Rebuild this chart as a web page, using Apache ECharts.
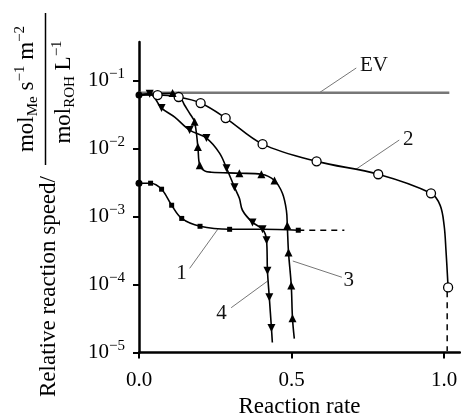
<!DOCTYPE html>
<html><head><meta charset="utf-8">
<script src="https://cdn.jsdelivr.net/npm/echarts@6/dist/echarts.min.js"></script>
<style>html,body{margin:0;padding:0;background:#fff}#c{width:461px;height:414px}</style>
</head><body><div id="c"></div>
<script>
// ---- axis ticks ----
const xTicks = [0, 0.5, 1.0];
const xTickLabels = ['0.0', '0.5', '1.0'];
const yTicks = [1e-5, 1e-4, 1e-3, 1e-2, 1e-1];
const yTickExps = ['−5', '−4', '−3', '−2', '−1'];

// ---- data (x = reaction rate, y = relative reaction speed) ----
const evLine = [[0, 0.0665], [1.017, 0.0665]];

const curve1 = [[0, 0.0031], [0.038, 0.0031], [0.074, 0.00253], [0.107, 0.00147], [0.14, 0.00094], [0.20, 0.00072], [0.297, 0.00065], [0.405, 0.00065], [0.522, 0.00063]];
const curve1Markers = [[0.038, 0.0031], [0.074, 0.00253], [0.107, 0.00147], [0.14, 0.00094], [0.20, 0.00072], [0.297, 0.00065], [0.522, 0.00063]];
const curve1Dashed = [[0.522, 0.00063], [0.673, 0.00063]];

const curve2 = [[0, 0.0615], [0.061, 0.0615], [0.130, 0.0575], [0.202, 0.0469], [0.284, 0.0282], [0.405, 0.01165], [0.582, 0.0065], [0.784, 0.0042], [0.957, 0.0022], [0.987, 0.00146], [1.0, 0.00074], [1.006, 0.00032], [1.013, 0.0000906]];
const curve2Markers = [[0.061, 0.0615], [0.130, 0.0575], [0.202, 0.0469], [0.284, 0.0282], [0.405, 0.01165], [0.582, 0.0065], [0.784, 0.0042], [0.957, 0.0022], [1.013, 0.0000906]];
const curve2Dashed = [[1.01, 0.00008], [1.01, 0.0000105]];

const curve3 = [[0, 0.0615], [0.06, 0.064], [0.11, 0.065], [0.134, 0.058], [0.149, 0.0439], [0.166, 0.0331], [0.182, 0.0248], [0.193, 0.0106], [0.199, 0.0057], [0.215, 0.0047], [0.237, 0.0045], [0.329, 0.00435], [0.401, 0.0042], [0.444, 0.0034], [0.470, 0.0022], [0.483, 0.00124], [0.486, 0.00074], [0.490, 0.000297], [0.499, 0.000097], [0.503, 0.000032], [0.509, 0.000016]];
const curve3Markers = [[0.11, 0.066], [0.182, 0.0248], [0.193, 0.0106], [0.199, 0.0057], [0.329, 0.00435], [0.401, 0.0042], [0.444, 0.0034], [0.486, 0.00074], [0.490, 0.000297], [0.499, 0.000097], [0.503, 0.000032]];

const curve4 = [[0, 0.0615], [0.035, 0.064], [0.074, 0.0395], [0.117, 0.0291], [0.166, 0.01874], [0.221, 0.01429], [0.264, 0.0086], [0.287, 0.00515], [0.313, 0.0027], [0.329, 0.00186], [0.339, 0.00124], [0.372, 0.00082], [0.405, 0.00065], [0.418, 0.00045], [0.421, 0.00016], [0.427, 0.000065], [0.434, 0.000023], [0.437, 0.000014]];
const curve4Markers = [[0.035, 0.064], [0.074, 0.0395], [0.166, 0.01874], [0.221, 0.01429], [0.287, 0.00515], [0.313, 0.0027], [0.372, 0.00082], [0.405, 0.00065], [0.418, 0.00045], [0.421, 0.00016], [0.427, 0.000065], [0.434, 0.000023]];

const startPoints = [[0, 0.0615], [0, 0.0031]];

// ---- annotations ----
const annotationNames = ['EV', '2', '3', '4', '1'];
const annotationPos = [[0.770, 0.1675], [0.882, 0.01374], [0.687, 0.000114], [0.270, 0.0000378], [0.139, 0.000147]];
const leaders = [
  [[0.591, 0.0665], [0.712, 0.1538]],
  [[0.711, 0.00497], [0.853, 0.01339]],
  [[0.504, 0.000222], [0.665, 0.000128]],
  [[0.422, 0.000113], [0.302, 0.0000456]],
  [[0.258, 0.00065], [0.166, 0.000173]]
];

const FONT = '"Liberation Serif", "Times New Roman", serif';
const BLACK = '#000';

function curve(data) {
  return { type: 'line', data: data, smooth: 0.35, showSymbol: false, symbol: 'none',
    lineStyle: { color: BLACK, width: 1.6 }, z: 3, silent: true };
}
function dashed(data) {
  return { type: 'line', data: data, showSymbol: false, symbol: 'none',
    lineStyle: { color: BLACK, width: 1.5, type: [6, 5] }, z: 3, silent: true };
}
function markers(data, symbol, size, fill) {
  return { type: 'scatter', data: data, symbol: symbol, symbolSize: size,
    itemStyle: { color: fill, borderColor: BLACK, borderWidth: fill === '#fff' ? 1.3 : 0, opacity: 1 }, z: 4, silent: true };
}

const option = {
  animation: false,
  backgroundColor: '#fff',
  grid: { left: 139, right: 1, top: 42, bottom: 61.5, containLabel: false, outerBoundsMode: 'none' },
  xAxis: {
    type: 'value', min: 0, max: 1.052,
    axisLine: { show: true, lineStyle: { color: BLACK, width: 2.5 } },
    axisTick: { show: true, length: 6, lineStyle: { color: BLACK, width: 2 }, customValues: xTicks },
    axisLabel: { customValues: xTicks, formatter: function (v) { const i = xTicks.findIndex(t => Math.abs(t - v) < 1e-9); return i >= 0 ? xTickLabels[i] : ''; },
      fontFamily: FONT, fontSize: 21, color: BLACK, margin: 17 },
    splitLine: { show: false },
    name: 'Reaction rate', nameLocation: 'middle', nameGap: 33,
    nameTextStyle: { fontFamily: FONT, fontSize: 23, color: BLACK }
  },
  yAxis: {
    type: 'log', logBase: 10, min: 1e-5, max: 0.371,
    axisLine: { show: true, lineStyle: { color: BLACK, width: 2.5 } },
    axisTick: { show: true, length: 6, lineStyle: { color: BLACK, width: 2 }, customValues: yTicks },
    axisLabel: { customValues: yTicks, margin: 14,
      formatter: function (v) { const e = Math.round(Math.log10(v)); const i = yTicks.findIndex(t => Math.round(Math.log10(t)) === e); return i >= 0 ? '{a|10}{b|' + yTickExps[i] + '}' : ''; },
      rich: {
        a: { fontFamily: FONT, fontSize: 21, color: BLACK, lineHeight: 28, verticalAlign: 'middle' },
        b: { fontFamily: FONT, fontSize: 15, color: BLACK, lineHeight: 8, verticalAlign: 'top' }
      } },
    splitLine: { show: false }
  },
  graphic: [{
    type: 'group', x: 0, y: 414, rotation: Math.PI / 2, silent: true,
    children: [
      { type: 'text', x: 17, y: 49, style: { text: 'Relative reaction speed/', fontFamily: FONT, fontSize: 23, fill: BLACK, align: 'left', verticalAlign: 'middle' } },
      { type: 'text', x: 325, y: 27, style: { text: '{m|mol}{s|Me}{m| s}{p|−1}{m| m}{p|−2}', align: 'center', verticalAlign: 'middle',
        rich: {
          m: { fontFamily: FONT, fontSize: 23, fill: BLACK, lineHeight: 28, verticalAlign: 'middle' },
          s: { fontFamily: FONT, fontSize: 15, fill: BLACK, lineHeight: 6, verticalAlign: 'bottom' },
          p: { fontFamily: FONT, fontSize: 15, fill: BLACK, lineHeight: 6, verticalAlign: 'top' }
        } } },
      { type: 'line', shape: { x1: 249, y1: 45.5, x2: 401, y2: 45.5 }, style: { stroke: BLACK, lineWidth: 1.5 } },
      { type: 'text', x: 322, y: 64, style: { text: '{m|mol}{s|ROH}{m| L}{p|−1}', align: 'center', verticalAlign: 'middle',
        rich: {
          m: { fontFamily: FONT, fontSize: 23, fill: BLACK, lineHeight: 28, verticalAlign: 'middle' },
          s: { fontFamily: FONT, fontSize: 15, fill: BLACK, lineHeight: 6, verticalAlign: 'bottom' },
          p: { fontFamily: FONT, fontSize: 15, fill: BLACK, lineHeight: 6, verticalAlign: 'top' }
        } } }
    ]
  }],
  series: [
    { type: 'line', data: evLine, showSymbol: false, symbol: 'none', lineStyle: { color: '#777', width: 2.5 }, z: 2, silent: true },
    { type: 'lines', coordinateSystem: 'cartesian2d', data: leaders.map(l => ({ coords: l })),
      lineStyle: { color: '#777', width: 1, opacity: 1 }, z: 2, silent: true },
    curve(curve1), dashed(curve1Dashed),
    curve(curve2), dashed(curve2Dashed),
    curve(curve3), curve(curve4),
    markers(curve1Markers, 'rect', 5, BLACK),
    markers(curve2Markers, 'circle', 9, '#fff'),
    markers(curve3Markers, 'triangle', 8, BLACK),
    markers(curve4Markers, 'path://M0,0 L10,0 L5,9 Z', 8, BLACK),
    markers(startPoints, 'circle', 7, BLACK),
    { type: 'scatter', data: annotationNames.map((n, i) => ({ name: n, value: annotationPos[i] })),
      symbol: 'circle', symbolSize: 0, itemStyle: { color: BLACK, opacity: 1 }, z: 5, silent: true,
      label: { show: true, position: 'inside', formatter: '{b}', fontFamily: FONT, fontSize: 21, color: '#111', opacity: 1, textBorderWidth: 0 } }
  ]
};
const chart = echarts.init(document.getElementById('c'));
chart.setOption(option);
</script>
</body></html>
